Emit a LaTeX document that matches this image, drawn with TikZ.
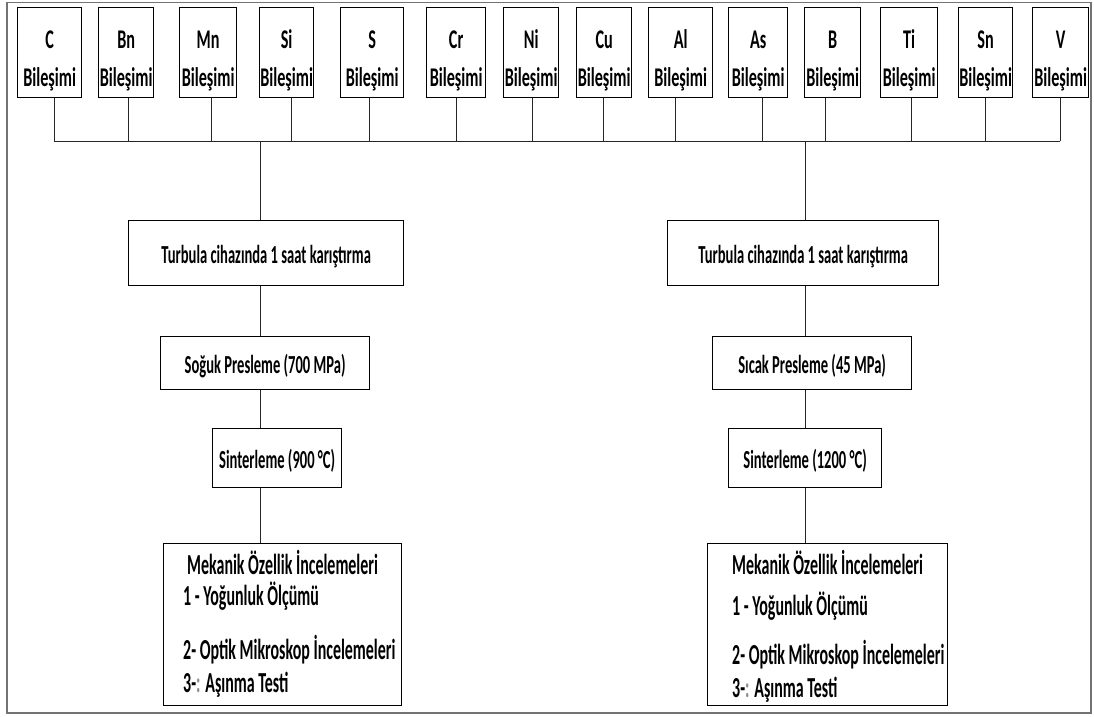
\documentclass[tikz,border=0pt]{standalone}
\usepackage{fontspec}
\setmainfont{Carlito}
\newfontfamily\topf{Carlito}[FakeStretch=0.6]
\newfontfamily\midf{Carlito}[FakeStretch=0.56]
\newfontfamily\botf{Carlito}[FakeStretch=0.55]
\begin{document}
\begin{tikzpicture}[x=1pt,y=-1pt,
  frame/.style={draw=black!55, line width=1.8pt},
  box/.style={draw=black, line width=1.3pt, inner sep=0pt, anchor=north west},
  topbox/.style={box, minimum height=90pt},
  toptext/.style={anchor=base, inner sep=0pt, font=\topf\bfseries\fontsize{27}{30}\selectfont},
  midbox/.style={box, font=\midf\bfseries\fontsize{26}{30}\selectfont, text height=21pt, text depth=0pt},
  bottext/.style={anchor=base west, inner sep=0pt, font=\botf\bfseries\fontsize{29}{34}\selectfont},
  conn/.style={draw=black!85, line width=0.8pt}]
\useasboundingbox (0,0) rectangle (1094,716);
\fill[white] (0,0) rectangle (1094,716);
\draw[frame] (7,2.5) rectangle (1091,713);

% top element boxes
\foreach \n/\el/\l/\r/\d in {C/C/17/81/54, Bn/Bn/98/153/128, Mn/Mn/179/236/211, Si/Si/259/313/291,
  S/S/340/403/369, Cr/Cr/426/485/456, Ni/Ni/503/558/532, Cu/Cu/576/631/603, Al/Al/648/712/675,
  As/As/728/787/762, B/B/804/860/825, Ti/Ti/880/937/911, Sn/Sn/958/1012/985, V/V/1032/1088/1060}{
  \pgfmathsetmacro\w{\r-\l}
  \node[topbox, minimum width=\w pt] (b\n) at (\l,7) {};
  \node[toptext] (ta\n) at ([yshift=-41pt]b\n.north) {\el};
  \node[toptext] (tb\n) at ([yshift=-79pt]b\n.north) {Bileşimi};
  \coordinate (d\n) at (\d,141);
  \draw[conn] (b\n.south -| d\n) -- (d\n);
}
\draw[conn] (dC) -- (dV);

\coordinate (tL) at (260,141);
\coordinate (tR) at (805,141);

% left chain
\node[midbox, minimum width=275pt, minimum height=65pt] (turbL) at (128,220) {Turbula cihazında 1 saat karıştırma};
\node[midbox, minimum width=209pt, minimum height=53pt] (sogL) at (160,336) {Soğuk Presleme (700 MPa)};
\node[midbox, minimum width=129pt, minimum height=59pt] (sinL) at (212,428) {Sinterleme (900 °C)};
\node[box, minimum width=238pt, minimum height=162pt] (mekL) at (163,543) {};
\node[bottext] (mL1) at (187,574) {Mekanik Özellik İncelemeleri};
\node[bottext] (mL2) at (183,605) {1 - Yoğunluk Ölçümü};
\node[bottext] (mL3) at (183,659) {2- Optik Mikroskop İncelemeleri};
\node[bottext] (mL4) at (183,692) {3-{\color{black!45}:} Aşınma Testi};

% right chain
\node[midbox, minimum width=271pt, minimum height=65pt] (turbR) at (667,220) {Turbula cihazında 1 saat karıştırma};
\node[midbox, minimum width=199pt, minimum height=53pt] (sicR) at (712,336) {Sıcak Presleme (45 MPa)};
\node[midbox, minimum width=153pt, minimum height=59pt] (sinR) at (728,428) {Sinterleme (1200 °C)};
\node[box, minimum width=240pt, minimum height=162pt] (mekR) at (707,543) {};
\node[bottext] (mR1) at (732,574) {Mekanik Özellik İncelemeleri};
\node[bottext] (mR2) at (732,615) {1 - Yoğunluk Ölçümü};
\node[bottext] (mR3) at (732,664) {2- Optik Mikroskop İncelemeleri};
\node[bottext] (mR4) at (732,697) {3-{\color{black!45}:} Aşınma Testi};

% trunks
\draw[conn] (tL) -- (tL |- turbL.north);
\draw[conn] (tL |- turbL.south) -- (tL |- sogL.north);
\draw[conn] (tL |- sogL.south) -- (tL |- sinL.north);
\draw[conn] (tL |- sinL.south) -- (tL |- mekL.north);
\draw[conn] (tR) -- (tR |- turbR.north);
\draw[conn] (tR |- turbR.south) -- (tR |- sicR.north);
\draw[conn] (tR |- sicR.south) -- (tR |- sinR.north);
\draw[conn] (tR |- sinR.south) -- (tR |- mekR.north);
\end{tikzpicture}
\end{document}
